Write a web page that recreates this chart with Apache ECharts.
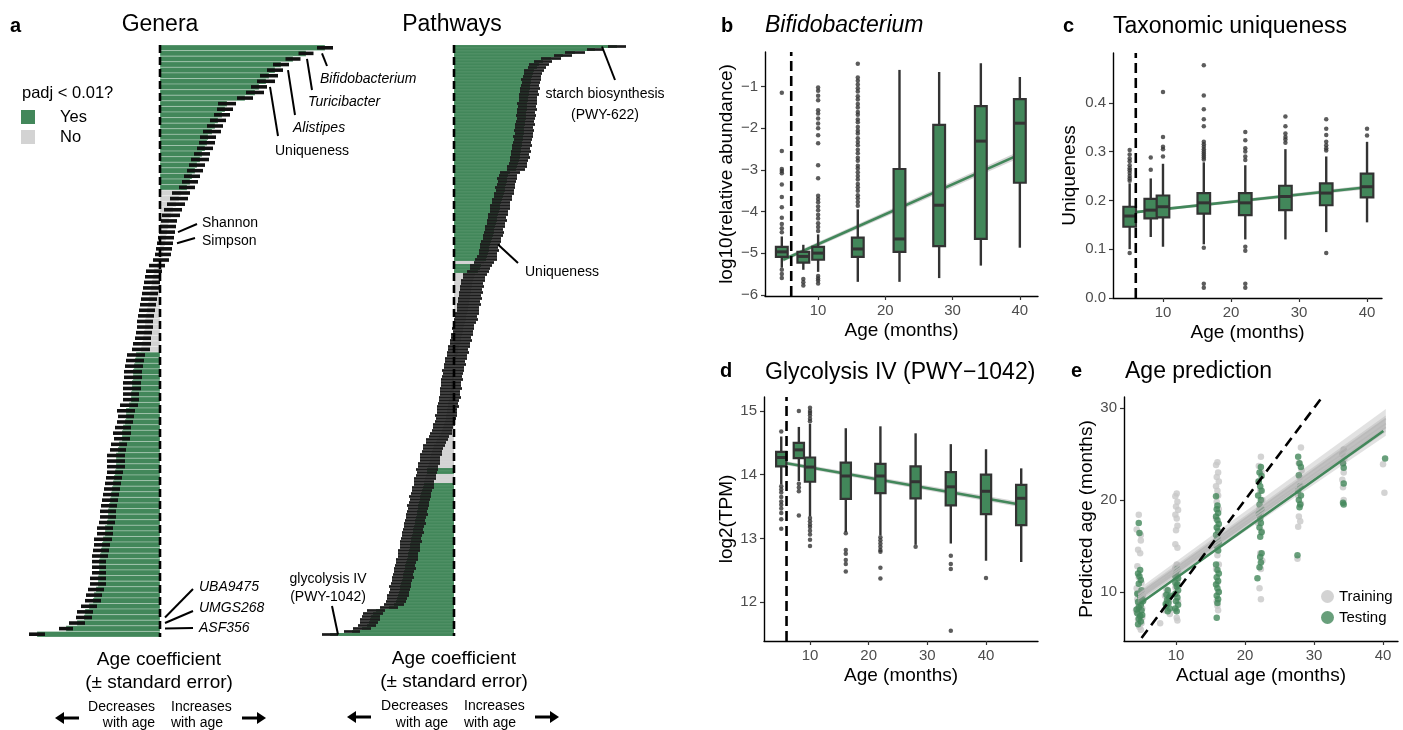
<!DOCTYPE html>
<html>
<head>
<meta charset="utf-8">
<script src="https://cdn.jsdelivr.net/npm/echarts@6/dist/echarts.min.js"></script>
<style>
  html, body { margin: 0; padding: 0; background: #fff; }
  #chart { width: 1403px; height: 730px; }
</style>
</head>
<body>
<div id="chart"></div>
<script>
// ---- panel a: genera age coefficients (top to bottom) ----
var genCoef = [
  .165, .146, .133, .121, .115, .109, .106, .099, .095, .085,
  .067, .065, .062, .058, .055, .052, .048, .047, .045, .042,
  .040, .037, .035, .032, .030, .027,
  .021, .019, .016, .013, .011, .009, .008, .007, .006, .005,
  .004, .003, .001, -.003, -.006, -.007, -.008, -.009, -.010, -.011,
  -.012, -.013, -.014, -.015, -.015, -.016, -.017, -.018, -.019,
  -.024, -.025, -.026, -.027, -.027, -.028, -.028, -.029, -.029, -.031,
  -.034, -.034, -.035, -.037, -.038, -.038, -.041, -.042, -.044, -.044,
  -.044, -.045, -.046, -.047, -.048, -.049, -.050, -.051, -.052, -.052,
  -.053, -.055, -.055, -.057, -.058, -.059, -.060, -.061, -.061, -.061,
  -.062, -.062, -.064, -.066, -.067, -.071, -.075, -.076, -.083, -.094,
  -.123
];
var genSE = [
  .008, .0075, .0075, .008, .008, .009, .009, .008, .009, .008,
  .009, .008, .008, .008, .008, .009, .008, .008, .008, .008,
  .009, .008, .008, .008, .008, .008,
  .009, .009, .009, .009, .009, .008, .008, .008, .008, .008,
  .008, .008, .008, .008, .008, .008, .008, .008, .008, .008,
  .008, .008, .008, .008, .008, .008, .008, .009, .009,
  .009, .009, .009, .009, .009, .009, .009, .008, .008, .009,
  .009, .008, .008, .008, .009, .008, .008, .008, .009, .009,
  .009, .008, .008, .008, .008, .008, .008, .008, .008, .008,
  .008, .008, .008, .009, .008, .008, .008, .007, .007, .007,
  .008, .008, .008, .008, .008, .008, .008, .008, .008, .007,
  .008
];
// padj < 0.01 runs: [significant, count]
var genSigRuns = [[1, 26], [0, 29], [1, 51]];

// ---- panel a: pathways age coefficients ----
var pathCoef = [
  .163, .141, .121, .109, .097, .089, .085, .083, .080, .079,
  .078, .077, .077, .076, .076, .075, .075, .074, .074, .073,
  .073, .073, .072, .072, .072, .071, .071, .070, .070, .070,
  .069, .069, .068, .068, .067, .067, .066, .066, .065, .064,
  .063, .062, .056, .054, .053, .053, .052, .051, .051, .050,
  .049, .048, .047, .046, .046, .045, .044, .043, .043, .042,
  .041, .040, .040, .039, .038, .037, .036, .035, .035, .034,
  .033, .032, .030, .027, .026, .024, .021, .020, .019, .018,
  .018, .017, .017, .016, .016, .015, .015, .014, .014, .013,
  .012, .012, .011, .010, .009, .009, .008, .007, .007, .006,
  .005, .004, .004, .003, .002, .001, .001, .000, -.001, -.001,
  -.002, -.002, -.003, -.003, -.003, -.004, -.004, -.004, -.005, -.006,
  -.006, -.007, -.007, -.008, -.008, -.009, -.010, -.011, -.012, -.013,
  -.015, -.017, -.018, -.020, -.021, -.022, -.023, -.024, -.024, -.025,
  -.026, -.027, -.027, -.028, -.029, -.030, -.030, -.031, -.032, -.033,
  -.034, -.034, -.035, -.036, -.036, -.037, -.037, -.038, -.039, -.039,
  -.040, -.041, -.041, -.042, -.043, -.043, -.044, -.044, -.045, -.046,
  -.046, -.047, -.048, -.049, -.049, -.050, -.051, -.051, -.052, -.053,
  -.054, -.054, -.055, -.056, -.057, -.058, -.060, -.065, -.078, -.081,
  -.083, -.084, -.085, -.087, -.092, -.102, -.124
];
var pathSE = [
  .009, .008, .010, .009, .010, .009, .010, .009, .010, .009,
  .009, .010, .009, .009, .010, .009, .010, .009, .009, .010,
  .009, .010, .009, .010, .009, .009, .010, .009, .010, .009,
  .010, .009, .009, .010, .009, .010, .009, .010, .009, .009,
  .010, .009, .010, .009, .010, .009, .009, .010, .009, .010,
  .009, .010, .009, .010, .010, .009, .010, .009, .010, .009,
  .010, .009, .010, .010, .009, .010, .010, .009, .010, .009,
  .010, .011, .010, .011, .010, .011, .012, .011, .012, .011,
  .012, .011, .012, .011, .012, .011, .012, .011, .011, .012,
  .011, .012, .011, .010, .011, .010, .011, .010, .011, .010,
  .011, .010, .011, .010, .011, .010, .011, .010, .011, .010,
  .010, .011, .010, .010, .011, .010, .010, .011, .010, .010,
  .011, .010, .010, .011, .010, .010, .011, .010, .010, .011,
  .010, .011, .010, .011, .010, .010, .011, .010, .010, .011,
  .010, .011, .010, .010, .011, .010, .010, .011, .010, .010,
  .011, .010, .010, .011, .010, .010, .011, .010, .010, .011,
  .010, .010, .011, .010, .010, .011, .010, .010, .011, .010,
  .010, .011, .010, .010, .011, .010, .010, .011, .010, .010,
  .011, .010, .010, .011, .010, .010, .010, .009, .009, .010,
  .009, .010, .009, .009, .009, .008, .008
];
var pathSigRuns = [[1, 72], [0, 1], [1, 3], [0, 65], [1, 2], [0, 3], [1, 51]];

// ---- panel b: Bifidobacterium log10 relative abundance ----
var bAges = [4.6, 7.8, 10, 15.9, 22.1, 28, 34.2, 40];
var bLo  = [-5.35, -5.4, -5.45, -5.69, -5.69, -5.6, -5.3, -4.87];
var bQ1  = [-5.09, -5.23, -5.16, -5.09, -4.97, -4.83, -4.66, -3.31];
var bMed = [-4.97, -5.08, -5.0, -4.9, -4.66, -3.85, -2.31, -1.88];
var bQ3  = [-4.85, -4.97, -4.85, -4.63, -2.98, -1.92, -1.47, -1.3];
var bHi  = [-4.6, -4.8, -4.55, -3.95, -0.6, -0.65, -0.44, -0.77];
var bOut = [
  [-1.15, -2.55, -2.98, -3.03, -3.08, -3.35, -3.65, -3.9, -4.15, -4.3, -4.4, -4.5, -5.4, -5.5, -5.6],
  [-5.62, -5.7, -5.78],
  [-1.02, -1.1, -1.22, -1.33, -1.57, -1.65, -1.77, -1.89, -2.0, -2.17, -2.36, -2.89, -3.2,
   -3.62, -3.7, -3.78, -3.88, -3.97, -4.08, -4.17, -4.28, -4.37, -4.47, -5.55, -5.61, -5.66, -5.73],
  [-0.45, -0.78, -0.86, -0.95, -1.04, -1.12, -1.23, -1.31, -1.42, -1.5, -1.61, -1.68, -1.79, -1.86,
   -1.97, -2.06, -2.13, -2.24, -2.33, -2.41, -2.52, -2.6, -2.71, -2.78, -2.9, -2.97, -3.06, -3.15,
   -3.23, -3.34, -3.42, -3.5, -3.61, -3.68, -3.77, -3.86],
  [], [], [], []
];
var bFitX = [4.8, 40], bFitY = [-5.16, -2.63], bFitLo = [-5.21, -2.71], bFitHi = [-5.11, -2.55];

// ---- panel c: taxonomic uniqueness ----
var cAges = [5.1, 8.2, 10, 16, 22.1, 28, 34, 40];
var cLo  = [0.10, 0.125, 0.105, 0.11, 0.12, 0.12, 0.135, 0.155];
var cQ1  = [0.146, 0.163, 0.165, 0.173, 0.17, 0.18, 0.19, 0.206];
var cMed = [0.168, 0.18, 0.187, 0.195, 0.195, 0.208, 0.215, 0.228];
var cQ3  = [0.187, 0.203, 0.21, 0.215, 0.215, 0.23, 0.235, 0.255];
var cHi  = [0.235, 0.245, 0.275, 0.278, 0.272, 0.305, 0.29, 0.32];
var cOut = [
  [0.24, 0.245, 0.25, 0.256, 0.262, 0.266, 0.272, 0.28, 0.286, 0.294, 0.303, 0.092],
  [0.263, 0.288],
  [0.29, 0.305, 0.31, 0.33, 0.422],
  [0.477, 0.415, 0.387, 0.366, 0.352, 0.32, 0.315, 0.31, 0.305, 0.30, 0.296, 0.292, 0.288, 0.284, 0.103, 0.029, 0.021],
  [0.34, 0.323, 0.307, 0.30, 0.29, 0.283, 0.105, 0.097, 0.029, 0.021],
  [0.372, 0.352, 0.337, 0.33, 0.325, 0.318],
  [0.366, 0.347, 0.334, 0.32, 0.313, 0.307, 0.302, 0.092],
  [0.347, 0.333]
];
var cFitX = [6, 40], cFitY = [0.176, 0.227], cFitLo = [0.173, 0.223], cFitHi = [0.179, 0.231];

// ---- panel d: glycolysis IV log2(TPM) ----
var dAges = [5.1, 8.1, 10, 16.1, 22, 28, 34, 40, 46];
var dLo  = [13.85, 13.9, 13.35, 13.1, 13.05, 12.9, 12.92, 12.65, 12.63];
var dQ1  = [14.13, 14.26, 13.89, 13.62, 13.71, 13.63, 13.52, 13.38, 13.21];
var dMed = [14.27, 14.39, 14.12, 13.98, 13.98, 13.89, 13.81, 13.74, 13.63];
var dQ3  = [14.36, 14.5, 14.27, 14.19, 14.17, 14.13, 14.04, 14.0, 13.84];
var dHi  = [14.6, 14.75, 14.8, 14.73, 14.76, 14.65, 14.48, 14.4, 14.1];
var dOut = [
  [14.68, 13.82, 13.77, 13.72, 13.65, 13.58, 13.53, 13.47, 13.4, 13.3, 13.15],
  [15.0, 13.86, 13.8, 13.74, 13.36],
  [15.05, 15.0, 14.97, 14.93, 14.88, 14.84, 13.32, 13.27, 13.22, 13.18, 13.12, 13.06, 12.98, 12.88],
  [13.08, 12.82, 12.76, 12.66, 12.6, 12.48],
  [13.02, 12.97, 12.92, 12.87, 12.82, 12.79, 12.54, 12.37],
  [12.87],
  [12.73, 12.6, 12.52, 11.55],
  [12.38],
  []
];
var dFitX = [6, 46], dFitY = [14.18, 13.53], dFitLo = [14.15, 13.49], dFitHi = [14.21, 13.57];

// ---- panel e: age prediction ----
var eTrain = [
  [4.6, 18.4], [4.3, 16.8], [4.9, 15.6], [4.5, 14.6], [4.8, 14.2], [4.4, 12.8], [5.0, 11.0], [4.3, 10.4],
  [4.7, 10.0], [5.2, 9.6], [4.4, 9.2], [4.9, 8.8], [4.6, 8.5], [5.1, 8.2], [4.3, 7.8], [4.8, 7.4],
  [4.5, 7.0], [5.0, 6.6], [4.7, 6.2], [4.9, 5.9], [4.4, 9.9], [5.3, 9.1], [4.2, 8.0], [5.1, 7.2],
  [4.6, 11.6], [4.9, 16.2],
  [8.6, 10.3], [8.4, 9.6], [9.0, 9.0], [8.7, 8.6], [8.3, 8.0], [9.1, 7.6], [7.7, 6.6], [8.8, 9.3],
  [10.1, 20.7], [9.9, 20.4], [10.2, 19.8], [10.0, 19.3], [10.3, 18.9], [9.9, 18.4], [10.1, 18.0],
  [10.2, 17.2], [10.0, 16.7], [9.9, 15.2], [10.2, 14.8], [10.1, 13.0], [9.9, 12.6], [10.3, 12.2],
  [10.0, 11.8], [10.2, 11.2], [9.9, 10.5], [10.1, 9.8], [10.3, 9.0], [9.9, 8.0], [10.1, 7.2], [10.2, 6.9],
  [16.0, 24.1], [15.8, 23.8], [16.1, 23.0], [15.9, 22.5], [16.2, 22.0], [15.8, 21.5], [16.0, 21.0],
  [16.1, 20.5], [15.9, 19.8], [16.2, 19.0], [15.8, 18.0], [16.0, 17.0], [16.1, 16.0], [15.9, 15.0],
  [16.0, 14.0], [16.2, 13.0], [15.8, 12.5], [16.0, 11.0], [16.1, 10.0], [15.9, 9.0], [16.0, 8.5], [16.1, 8.0],
  [22.3, 24.7], [22.0, 23.7], [22.4, 23.0], [21.9, 22.0], [22.2, 21.0], [22.5, 20.0], [22.1, 19.0],
  [22.3, 18.4], [21.9, 17.5], [22.4, 16.6], [22.2, 14.2], [22.5, 13.4], [22.3, 12.5], [22.1, 10.4], [22.3, 9.2],
  [28.1, 25.7], [27.8, 24.0], [28.2, 23.2], [27.9, 22.5], [28.0, 21.5], [27.7, 20.5], [28.1, 19.6],
  [27.8, 18.2], [28.0, 17.7], [27.7, 17.1], [27.6, 13.6],
  [34.3, 25.5], [34.1, 25.0], [34.4, 24.5], [34.2, 24.0], [34.3, 23.0], [34.1, 22.2], [34.2, 21.4], [34.3, 20.0],
  [40.0, 23.9], [40.2, 20.8]
];
var eTest = [
  [4.6, 17.5], [4.7, 16.4], [4.8, 12.4], [4.5, 12.0], [4.9, 11.3], [4.6, 10.9], [5.0, 10.2], [4.4, 9.8],
  [4.8, 9.5], [5.1, 9.2], [4.5, 8.9], [4.9, 8.6], [4.6, 8.3], [5.0, 8.0], [4.4, 7.7], [4.8, 7.4],
  [4.6, 7.1], [4.9, 6.8], [4.5, 6.5], [5.2, 9.0], [4.3, 8.1], [5.1, 7.5], [4.7, 11.7],
  [8.8, 10.2], [8.6, 9.7], [9.0, 9.4], [8.7, 9.1], [8.9, 8.8], [8.6, 8.5], [9.1, 8.2], [8.8, 7.9], [9.2, 9.6], [8.5, 8.7],
  [10.2, 12.5], [10.0, 12.0], [10.3, 11.5], [9.9, 11.0], [10.1, 10.6], [10.3, 10.2], [9.9, 9.8],
  [10.2, 9.4], [10.0, 9.0], [10.3, 8.6], [9.9, 8.2], [10.1, 7.9], [10.2, 10.8], [9.9, 11.7],
  [15.8, 20.4], [16.0, 19.4], [15.9, 19.0], [16.1, 18.6], [15.8, 18.2], [16.0, 17.8], [16.2, 17.4],
  [15.9, 17.0], [16.1, 16.6], [15.8, 16.2], [16.0, 15.8], [16.2, 15.4], [15.9, 15.0], [16.1, 14.5],
  [15.8, 13.0], [16.0, 12.4], [16.2, 12.0], [15.9, 11.6], [16.1, 11.2], [15.8, 10.8], [16.0, 10.4],
  [16.2, 10.0], [15.9, 9.6], [16.1, 9.2], [16.0, 8.8], [15.9, 7.2],
  [22.3, 23.6], [22.1, 23.0], [22.4, 22.6], [22.0, 22.0], [22.2, 21.5], [22.4, 21.0], [21.9, 20.5],
  [22.3, 20.0], [22.1, 19.5], [22.4, 19.0], [22.0, 18.5], [22.2, 18.0], [22.3, 17.5], [22.1, 17.0],
  [22.4, 16.5], [22.2, 16.0], [22.4, 14.2], [22.2, 13.8], [22.3, 13.2], [22.1, 12.7], [21.8, 11.5],
  [27.7, 24.7], [27.9, 24.0], [28.1, 23.6], [27.8, 22.7], [28.0, 21.5], [27.7, 21.0], [28.1, 20.5],
  [27.8, 20.0], [28.0, 19.5], [27.9, 19.2], [27.6, 14.0],
  [34.2, 24.0], [34.3, 23.5], [34.3, 21.8], [34.2, 19.7], [34.3, 19.5],
  [40.3, 24.5]
];
var eTrainFitX = [4.5, 40.4];
var eTrainFits = [[9.45, 28.3], [9.7, 28.85], [9.25, 27.9]];
var eTrainLo = [[8.9, 27.4], [9.1, 27.8], [8.7, 27.0]];
var eTrainHi = [[10.0, 29.2], [10.3, 29.9], [9.8, 28.8]];
var eTestFitX = [4.8, 40.05], eTestFitY = [8.75, 27.5];
var eIdentity = [5, 31.2];
var cutoffAge = 6;

var GREEN = '#42875a';
var GRAY = '#d3d3d3';
var DARK = '#333333';
var FONT = "'Liberation Sans', Arial, Helvetica, sans-serif";

function expandRuns(runs) {
  var out = [];
  runs.forEach(function (r) { for (var i = 0; i < r[1]; i++) out.push(r[0]); });
  return out;
}
var genSig = expandRuns(genSigRuns);
var pathSig = expandRuns(pathSigRuns);

function flatOut(ages, outs) {
  var pts = [];
  ages.forEach(function (a, i) { outs[i].forEach(function (v) { pts.push([a, v]); }); });
  return pts;
}
function boxData(ages, lo, q1, md, q3, hi) {
  return ages.map(function (a, i) { return [a, lo[i], q1[i], md[i], q3[i], hi[i]]; });
}

function boxRender(boxW) {
  return function (params, api) {
    var x = api.value(0);
    var lo = api.coord([x, api.value(1)]);
    var q1 = api.coord([x, api.value(2)]);
    var md = api.coord([x, api.value(3)]);
    var q3 = api.coord([x, api.value(4)]);
    var hi = api.coord([x, api.value(5)]);
    var hw = api.size([boxW, 0])[0] / 2;
    return {
      type: 'group',
      children: [
        { type: 'line', shape: { x1: lo[0], y1: lo[1], x2: hi[0], y2: hi[1] }, style: { stroke: DARK, lineWidth: 2.4 } },
        { type: 'rect', shape: { x: q3[0] - hw, y: q3[1], width: 2 * hw, height: q1[1] - q3[1] },
          style: { fill: GREEN, stroke: DARK, lineWidth: 2.2 } },
        { type: 'line', shape: { x1: md[0] - hw, y1: md[1], x2: md[0] + hw, y2: md[1] }, style: { stroke: DARK, lineWidth: 3 } }
      ]
    };
  };
}

function ribbon(xs, lo, hi, color) {
  return function (params, api) {
    if (params.dataIndex !== 0) return null;
    var pts = [];
    for (var i = 0; i < xs.length; i++) pts.push(api.coord([xs[i], hi[i]]));
    for (var j = xs.length - 1; j >= 0; j--) pts.push(api.coord([xs[j], lo[j]]));
    return { type: 'polygon', shape: { points: pts }, style: { fill: color } };
  };
}

// horizontal bar from 0 to coefficient, one row per position
function barRender(border) {
  return function (params, api) {
    var row = api.value(1);
    var a = api.coord([0, row]);
    var b = api.coord([api.value(0), row]);
    var h = api.size([0, 1])[1];
    return {
      type: 'rect',
      shape: { x: Math.min(a[0], b[0]), y: a[1] - h / 2, width: Math.abs(b[0] - a[0]), height: h },
      style: { fill: api.value(2) ? GREEN : GRAY, stroke: border, lineWidth: 0.5 }
    };
  };
}

function errRender(h, color) {
  return function (params, api) {
    var a = api.coord([api.value(0), api.value(2)]);
    var b = api.coord([api.value(1), api.value(2)]);
    return { type: 'rect', shape: { x: a[0], y: a[1] - h / 2, width: b[0] - a[0], height: h }, style: { fill: color } };
  };
}

function minusFmt(v) { return String(v).replace('-', '\u2212'); }

function valAxis(grid, min, max, ticks, name, gap, fmt) {
  return {
    type: 'value', gridIndex: grid, min: min, max: max,
    name: name, nameLocation: 'middle', nameGap: gap,
    nameTextStyle: { color: '#000', fontSize: 19, fontFamily: FONT },
    axisLine: { show: true, onZero: false, lineStyle: { color: '#000', width: 1.4 } },
    axisTick: { show: true, length: 4, customValues: ticks, lineStyle: { color: DARK, width: 1.2 } },
    axisLabel: { customValues: ticks, color: '#4d4d4d', fontSize: 15, fontFamily: FONT, margin: 7, formatter: fmt || minusFmt },
    splitLine: { show: false }
  };
}

function dashedLine(xi, yi, pts, dash, z) {
  return {
    type: 'line', xAxisIndex: xi, yAxisIndex: yi, z: z || 6, symbol: 'none', silent: true,
    lineStyle: { color: '#000', width: 2.6, type: dash }, data: pts
  };
}

var chart = echarts.init(document.getElementById('chart'));

var nG = genCoef.length, nP = pathCoef.length;

var option = {
  animation: false,
  backgroundColor: '#fff',
  grid: [
    { left: 25, top: 45, width: 310, height: 592 },
    { left: 300, top: 45, width: 330, height: 591 },
    { left: 765, top: 52, width: 273, height: 244 },
    { left: 1113, top: 53, width: 269, height: 245 },
    { left: 764, top: 397, width: 274, height: 244 },
    { left: 1124, top: 397, width: 274, height: 244 }
  ],
  xAxis: [
    { type: 'value', gridIndex: 0, min: -0.135, max: 0.175, show: false },
    { type: 'value', gridIndex: 1, min: -0.154, max: 0.176, show: false },
    valAxis(2, 2.1, 42.7, [10, 20, 30, 40], 'Age (months)', 25),
    valAxis(3, 2.65, 42.2, [10, 20, 30, 40], 'Age (months)', 25),
    valAxis(4, 2.16, 48.86, [10, 20, 30, 40], 'Age (months)', 25),
    valAxis(5, 2.46, 42.17, [10, 20, 30, 40], 'Actual age (months)', 25)
  ],
  yAxis: [
    { type: 'value', gridIndex: 0, inverse: true, min: -0.5, max: nG - 0.5, show: false },
    { type: 'value', gridIndex: 1, inverse: true, min: -0.5, max: nP - 0.5, show: false },
    valAxis(2, -6.03, -0.17, [-6, -5, -4, -3, -2, -1], 'log10(relative abundance)', 29),
    valAxis(3, 0, 0.502, [0, 0.1, 0.2, 0.3, 0.4], 'Uniqueness', 34, function (v) { return v.toFixed(1); }),
    valAxis(4, 11.39, 15.22, [12, 13, 14, 15], 'log2(TPM)', 28),
    valAxis(5, 4.67, 31.2, [10, 20, 30], 'Predicted age (months)', 28)
  ],
  legend: {
    data: ['Training', 'Testing'], orient: 'vertical', left: 1316, top: 584,
    itemWidth: 13, itemHeight: 13, itemGap: 6, icon: 'circle',
    textStyle: { fontSize: 15, fontFamily: FONT, color: '#000' }
  },
  series: [
    // genera
    { type: 'custom', xAxisIndex: 0, yAxisIndex: 0, z: 2, silent: true, renderItem: barRender('rgba(255,255,255,0.55)'),
      data: genCoef.map(function (c, i) { return [c, i, genSig[i]]; }), encode: { x: 0, y: 1 } },
    { type: 'custom', xAxisIndex: 0, yAxisIndex: 0, z: 3, silent: true, renderItem: errRender(3.6, '#111'),
      data: genCoef.map(function (c, i) { return [c - genSE[i], c + genSE[i], i]; }), encode: { x: [0, 1], y: 2 } },
    dashedLine(0, 0, [[0, -0.5], [0, nG - 0.5]], [8, 4], 4),
    // pathways
    { type: 'custom', xAxisIndex: 1, yAxisIndex: 1, z: 2, silent: true, renderItem: barRender('rgba(255,255,255,0.15)'),
      data: pathCoef.map(function (c, i) { return [c, i, pathSig[i]]; }), encode: { x: 0, y: 1 } },
    { type: 'custom', xAxisIndex: 1, yAxisIndex: 1, z: 3, silent: true, renderItem: errRender(2.7, '#1c1c1c'),
      data: pathCoef.map(function (c, i) { return [c - pathSE[i], c + pathSE[i], i]; }), encode: { x: [0, 1], y: 2 } },
    dashedLine(1, 1, [[0, -0.5], [0, nP - 0.5]], [8, 4], 4),
    // b
    { type: 'custom', xAxisIndex: 2, yAxisIndex: 2, z: 2, silent: true, renderItem: ribbon(bFitX, bFitLo, bFitHi, 'rgba(150,150,150,0.4)'),
      data: bFitX.map(function (x, i) { return [x, bFitLo[i], bFitHi[i]]; }), encode: { x: 0, y: [1, 2] } },
    { type: 'line', xAxisIndex: 2, yAxisIndex: 2, z: 3, symbol: 'none', silent: true, lineStyle: { color: GREEN, width: 2.6 },
      data: bFitX.map(function (x, i) { return [x, bFitY[i]]; }) },
    { type: 'custom', xAxisIndex: 2, yAxisIndex: 2, z: 4, silent: true, renderItem: boxRender(1.75),
      data: boxData(bAges, bLo, bQ1, bMed, bQ3, bHi), encode: { x: 0, y: [1, 2, 3, 4, 5] } },
    { type: 'scatter', xAxisIndex: 2, yAxisIndex: 2, z: 5, symbolSize: 4.5, silent: true, itemStyle: { color: DARK },
      data: flatOut(bAges, bOut) },
    dashedLine(2, 2, [[cutoffAge, -6.03], [cutoffAge, -0.17]], [10, 5], 6),
    // c
    { type: 'custom', xAxisIndex: 3, yAxisIndex: 3, z: 2, silent: true, renderItem: ribbon(cFitX, cFitLo, cFitHi, 'rgba(150,150,150,0.4)'),
      data: cFitX.map(function (x, i) { return [x, cFitLo[i], cFitHi[i]]; }), encode: { x: 0, y: [1, 2] } },
    { type: 'line', xAxisIndex: 3, yAxisIndex: 3, z: 3, symbol: 'none', silent: true, lineStyle: { color: GREEN, width: 2.6 },
      data: cFitX.map(function (x, i) { return [x, cFitY[i]]; }) },
    { type: 'custom', xAxisIndex: 3, yAxisIndex: 3, z: 4, silent: true, renderItem: boxRender(1.85),
      data: boxData(cAges, cLo, cQ1, cMed, cQ3, cHi), encode: { x: 0, y: [1, 2, 3, 4, 5] } },
    { type: 'scatter', xAxisIndex: 3, yAxisIndex: 3, z: 5, symbolSize: 4.5, silent: true, itemStyle: { color: DARK },
      data: flatOut(cAges, cOut) },
    dashedLine(3, 3, [[cutoffAge, 0], [cutoffAge, 0.502]], [10, 5], 6),
    // d
    { type: 'custom', xAxisIndex: 4, yAxisIndex: 4, z: 2, silent: true, renderItem: ribbon(dFitX, dFitLo, dFitHi, 'rgba(150,150,150,0.4)'),
      data: dFitX.map(function (x, i) { return [x, dFitLo[i], dFitHi[i]]; }), encode: { x: 0, y: [1, 2] } },
    { type: 'line', xAxisIndex: 4, yAxisIndex: 4, z: 3, symbol: 'none', silent: true, lineStyle: { color: GREEN, width: 2.6 },
      data: dFitX.map(function (x, i) { return [x, dFitY[i]]; }) },
    { type: 'custom', xAxisIndex: 4, yAxisIndex: 4, z: 4, silent: true, renderItem: boxRender(1.75),
      data: boxData(dAges, dLo, dQ1, dMed, dQ3, dHi), encode: { x: 0, y: [1, 2, 3, 4, 5] } },
    { type: 'scatter', xAxisIndex: 4, yAxisIndex: 4, z: 5, symbolSize: 4.5, silent: true, itemStyle: { color: DARK },
      data: flatOut(dAges, dOut) },
    dashedLine(4, 4, [[cutoffAge, 11.39], [cutoffAge, 15.22]], [10, 5], 6),
    // e
    { name: 'Training', type: 'scatter', xAxisIndex: 5, yAxisIndex: 5, z: 2, symbolSize: 6.5, silent: true,
      itemStyle: { color: '#c8c8c8' }, data: eTrain },
    { name: 'Testing', type: 'scatter', xAxisIndex: 5, yAxisIndex: 5, z: 2, symbolSize: 6.5, silent: true,
      itemStyle: { color: GREEN }, data: eTest }
  ]
};

eTrainFits.forEach(function (f, k) {
  option.series.push({
    type: 'custom', xAxisIndex: 5, yAxisIndex: 5, z: 3, silent: true, clip: true,
    renderItem: ribbon(eTrainFitX, eTrainLo[k], eTrainHi[k], 'rgba(160,160,160,0.3)'),
    data: eTrainFitX.map(function (x, i) { return [x, eTrainLo[k][i], eTrainHi[k][i]]; }), encode: { x: 0, y: [1, 2] }
  });
  option.series.push({
    type: 'line', xAxisIndex: 5, yAxisIndex: 5, z: 4, symbol: 'none', silent: true,
    lineStyle: { color: 'rgba(185,185,185,0.9)', width: 1.6 },
    data: eTrainFitX.map(function (x, i) { return [x, f[i]]; })
  });
});
option.series.push({
  type: 'line', xAxisIndex: 5, yAxisIndex: 5, z: 5, symbol: 'none', silent: true,
  lineStyle: { color: GREEN, width: 2.6 },
  data: eTestFitX.map(function (x, i) { return [x, eTestFitY[i]]; })
});
option.series.push(dashedLine(5, 5, [[eIdentity[0], eIdentity[0]], [eIdentity[1], eIdentity[1]]], [10, 6], 6));

chart.setOption(option);

// ---- text, legend keys, arrows and leader lines ----
function txt(x, y, s, size, o) {
  o = o || {};
  var font = (o.italic ? 'italic ' : '') + (o.bold ? 'bold ' : '') + size + 'px ' + FONT;
  return {
    type: 'text', x: x, y: y, z: 100, silent: true,
    style: { text: s, font: font, fill: o.color || '#000',
      textAlign: o.align || 'left', align: o.align || 'left',
      textVerticalAlign: 'middle', verticalAlign: 'middle' }
  };
}
function seg(x1, y1, x2, y2, w) {
  return { type: 'line', z: 100, silent: true, shape: { x1: x1, y1: y1, x2: x2, y2: y2 }, style: { stroke: '#000', lineWidth: w || 2 } };
}
function arrow(xTail, xHead, y) {
  var d = xHead > xTail ? 1 : -1;
  return [
    seg(xTail, y, xHead - d * 6, y, 3),
    { type: 'polygon', z: 100, silent: true,
      shape: { points: [[xHead, y], [xHead - d * 9, y - 6], [xHead - d * 9, y + 6]] }, style: { fill: '#000' } }
  ];
}

var g = [
  txt(10, 26, 'a', 20, { bold: true }),
  txt(160, 25, 'Genera', 23, { align: 'center' }),
  txt(452, 25, 'Pathways', 23, { align: 'center' }),
  txt(22, 93, 'padj < 0.01?', 16.5),
  { type: 'rect', z: 100, shape: { x: 21, y: 110, width: 14, height: 14 }, style: { fill: GREEN } },
  { type: 'rect', z: 100, shape: { x: 21, y: 130, width: 14, height: 14 }, style: { fill: GRAY } },
  txt(60, 117, 'Yes', 16.5),
  txt(60, 137, 'No', 16.5),
  txt(320, 79, 'Bifidobacterium', 14, { italic: true }),
  txt(308, 102, 'Turicibacter', 14, { italic: true }),
  txt(293, 128, 'Alistipes', 14, { italic: true }),
  txt(275, 151, 'Uniqueness', 14),
  txt(202, 223, 'Shannon', 14),
  txt(202, 241, 'Simpson', 14),
  txt(199, 587, 'UBA9475', 14, { italic: true }),
  txt(199, 608, 'UMGS268', 14, { italic: true }),
  txt(199, 628, 'ASF356', 14, { italic: true }),
  txt(605, 94, 'starch biosynthesis', 14, { align: 'center' }),
  txt(605, 115, '(PWY-622)', 14, { align: 'center' }),
  txt(525, 272, 'Uniqueness', 14),
  txt(328, 579, 'glycolysis IV', 14, { align: 'center' }),
  txt(328, 597, '(PWY-1042)', 14, { align: 'center' }),
  txt(159, 660, 'Age coefficient', 19, { align: 'center' }),
  txt(159, 683, '(\u00b1 standard error)', 19, { align: 'center' }),
  txt(454, 659, 'Age coefficient', 19, { align: 'center' }),
  txt(454, 682, '(\u00b1 standard error)', 19, { align: 'center' }),
  txt(155, 707, 'Decreases', 14, { align: 'right' }),
  txt(155, 723, 'with age', 14, { align: 'right' }),
  txt(171, 707, 'Increases', 14),
  txt(171, 723, 'with age', 14),
  txt(448, 706, 'Decreases', 14, { align: 'right' }),
  txt(448, 723, 'with age', 14, { align: 'right' }),
  txt(464, 706, 'Increases', 14),
  txt(464, 723, 'with age', 14),
  txt(721, 26, 'b', 20, { bold: true }),
  txt(765, 26, 'Bifidobacterium', 23, { italic: true }),
  txt(1063, 26, 'c', 20, { bold: true }),
  txt(1113, 27, 'Taxonomic uniqueness', 23),
  txt(720, 371, 'd', 20, { bold: true }),
  txt(765, 373, 'Glycolysis IV (PWY\u22121042)', 23),
  txt(1071, 371, 'e', 20, { bold: true }),
  txt(1125, 372, 'Age prediction', 23)
];
g = g.concat(arrow(79, 55, 718), arrow(242, 266, 718), arrow(371, 347, 717), arrow(535, 559, 717));

// leader lines start at the labelled bars
var leaders = [
  { grid: 0, row: 1, val: 0.162, end: [327, 66] },
  { grid: 0, row: 2, val: 0.147, end: [312, 90] },
  { grid: 0, row: 4, val: 0.128, end: [295, 115] },
  { grid: 0, row: 7, val: 0.110, end: [278, 136] },
  { grid: 0, row: 33, val: 0.018, end: [197, 224] },
  { grid: 0, row: 35, val: 0.017, end: [195, 238] },
  { grid: 0, row: 102, val: 0.005, end: [193, 589] },
  { grid: 0, row: 103, val: 0.005, end: [193, 611] },
  { grid: 0, row: 104, val: 0.005, end: [193, 628] },
  { grid: 1, row: 0, val: 0.148, end: [615, 80] },
  { grid: 1, row: 66, val: 0.044, end: [518, 263] },
  { grid: 1, row: 196, val: -0.116, end: [332, 606] }
];
leaders.forEach(function (l) {
  var p = chart.convertToPixel({ gridIndex: l.grid }, [l.val, l.row]);
  if (p) g.push(seg(p[0], p[1], l.end[0], l.end[1], 2));
});

chart.setOption({ graphic: g });
</script>
</body>
</html>
